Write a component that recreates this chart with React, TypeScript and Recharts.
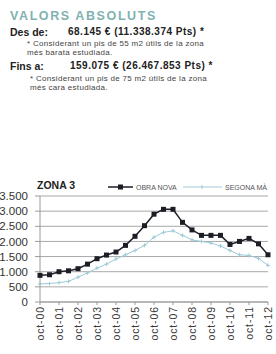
import React from "react";
import { LineChart, Line, XAxis, YAxis, CartesianGrid } from "recharts";

const periods = [
  "oct-00", "abr-01", "oct-01", "abr-02", "oct-02", "abr-03", "oct-03", "abr-04", "oct-04",
  "abr-05", "oct-05", "abr-06", "oct-06", "abr-07", "oct-07", "abr-08", "oct-08", "abr-09",
  "oct-09", "abr-10", "oct-10", "abr-11", "oct-11", "abr-12", "oct-12",
];
const obraNova = [
  880, 900, 1000, 1030, 1100, 1250, 1430, 1550, 1650, 1870, 2170, 2520, 2900, 3060, 3060,
  2630, 2380, 2200, 2200, 2200, 1900, 2000, 2100, 1920, 1560,
];
const segonaMa = [
  600, 610, 640, 680, 820, 960, 1120, 1250, 1420, 1560, 1700, 1870, 2140, 2300, 2350,
  2200, 2050, 2000, 1950, 1850, 1700, 1560, 1540, 1440, 1210,
];
const yTicks = [0, 500, 1000, 1500, 2000, 2500, 3000, 3500];
const seriesNames = ["OBRA NOVA", "SEGONA MÀ"];

const data = periods.map((p, i) => ({ periode: p, obra: obraNova[i], segona: segonaMa[i] }));

const fmt = (v: number) =>
  v >= 1000 ? `${Math.floor(v / 1000)}.${String(v % 1000).padStart(3, "0")}` : String(v);

const FONT = "'Liberation Sans', Arial, sans-serif";

const XTick = (props: any) => {
  const { x, y, payload } = props;
  return (
    <text
      x={x}
      y={y}
      transform={`rotate(-90 ${x} ${y})`}
      textAnchor="end"
      dominantBaseline="central"
      fontSize={10.5}
      fontFamily={FONT}
      fill="#3a3a3a"
      letterSpacing={0.9}
    >
      {payload.value}
    </text>
  );
};

const BlackDot = (props: any) => {
  const { cx, cy } = props;
  if (cx == null || cy == null) return null;
  return <rect x={cx - 2.5} y={cy - 2.5} width={5} height={5} fill="#1d1d26" />;
};

const LightDot = (props: any) => {
  const { cx, cy } = props;
  if (cx == null || cy == null) return null;
  return (
    <g stroke="#9fcbd6" strokeWidth={1}>
      <line x1={cx - 2} y1={cy} x2={cx + 2} y2={cy} />
      <line x1={cx} y1={cy - 2} x2={cx} y2={cy + 2} />
    </g>
  );
};

const txt: React.CSSProperties = { position: "absolute", whiteSpace: "nowrap", fontFamily: FONT, lineHeight: 1 };

export default function App() {
  return (
    <div style={{ position: "absolute", left: 0, top: 0, width: 276, height: 354, background: "#fff", overflow: "hidden" }}>
      <div style={{ ...txt, left: 10, top: 10, fontSize: 12.5, fontWeight: "bold", color: "#7fb2b0", letterSpacing: 1.6 }}>
        VALORS ABSOLUTS
      </div>
      <div style={{ ...txt, left: 10, top: 27, fontSize: 10.5, fontWeight: "bold", color: "#222" }}>Des de:</div>
      <div style={{ ...txt, left: 68, top: 27, fontSize: 10, fontWeight: "bold", color: "#222", letterSpacing: 0.5 }}>
        68.145 € (11.338.374 Pts) *
      </div>
      <div style={{ ...txt, left: 27, top: 40, fontSize: 8, color: "#444", lineHeight: "8.5px", letterSpacing: 0.3 }}>
        * Considerant un pis de 55 m2 útils de la zona
        <br />
        més barata estudiada.
      </div>
      <div style={{ ...txt, left: 10, top: 61, fontSize: 10.5, fontWeight: "bold", color: "#222" }}>Fins a:</div>
      <div style={{ ...txt, left: 70, top: 61, fontSize: 10, fontWeight: "bold", color: "#222", letterSpacing: 0.5 }}>
        159.075 € (26.467.853 Pts) *
      </div>
      <div style={{ ...txt, left: 30, top: 75, fontSize: 8, color: "#444", lineHeight: "8.5px", letterSpacing: 0.3 }}>
        * Considerant un pis de 75 m2 útils de la zona
        <br />
        més cara estudiada.
      </div>

      <div style={{ ...txt, left: 37, top: 180, fontSize: 10.5, fontWeight: "bold", color: "#222" }}>ZONA 3</div>
      <svg style={{ position: "absolute", left: 0, top: 180 }} width={276} height={14}>
        <line x1={108} y1={7} x2={133} y2={7} stroke="#1d1d26" strokeWidth={1.5} />
        <rect x={118} y={4.5} width={5} height={5} fill="#1d1d26" />
        <text x={136} y={7} dominantBaseline="central" fontSize={7} fontFamily={FONT} fill="#555">
          {seriesNames[0]}
        </text>
        <line x1={183} y1={7} x2={222} y2={7} stroke="#9fcbd6" strokeWidth={1} />
        <line x1={202} y1={5} x2={202} y2={9} stroke="#9fcbd6" strokeWidth={1} />
        <text x={225} y={7} dominantBaseline="central" fontSize={7} fontFamily={FONT} fill="#555">
          {seriesNames[1]}
        </text>
      </svg>

      <div style={{ position: "absolute", left: 0, top: 170 }}>
        <LineChart width={276} height={184} data={data} margin={{ top: 26, right: 8, bottom: 2, left: 0 }}>
          <CartesianGrid vertical={false} stroke="#a8a8a8" strokeWidth={1} />
          <XAxis
            dataKey="periode"
            interval={1}
            padding={{ left: 0, right: 0 }}
            height={50}
            tickSize={3}
            tickMargin={1}
            stroke="#9a9a9a"
            tick={<XTick />}
          />
          <YAxis
            domain={[0, 3500]}
            ticks={yTicks}
            width={40}
            tickSize={5}
            tickMargin={7}
            stroke="#9a9a9a"
            tickFormatter={fmt}
            tick={{ fontSize: 11.5, fontFamily: FONT, fill: "#333" }}
            interval={0}
          />
          <Line
            dataKey="segona"
            name={seriesNames[1]}
            stroke="#9fcbd6"
            strokeWidth={1}
            dot={<LightDot />}
            isAnimationActive={false}
          />
          <Line
            dataKey="obra"
            name={seriesNames[0]}
            stroke="#1d1d26"
            strokeWidth={1.5}
            dot={<BlackDot />}
            isAnimationActive={false}
          />
        </LineChart>
      </div>
    </div>
  );
}
